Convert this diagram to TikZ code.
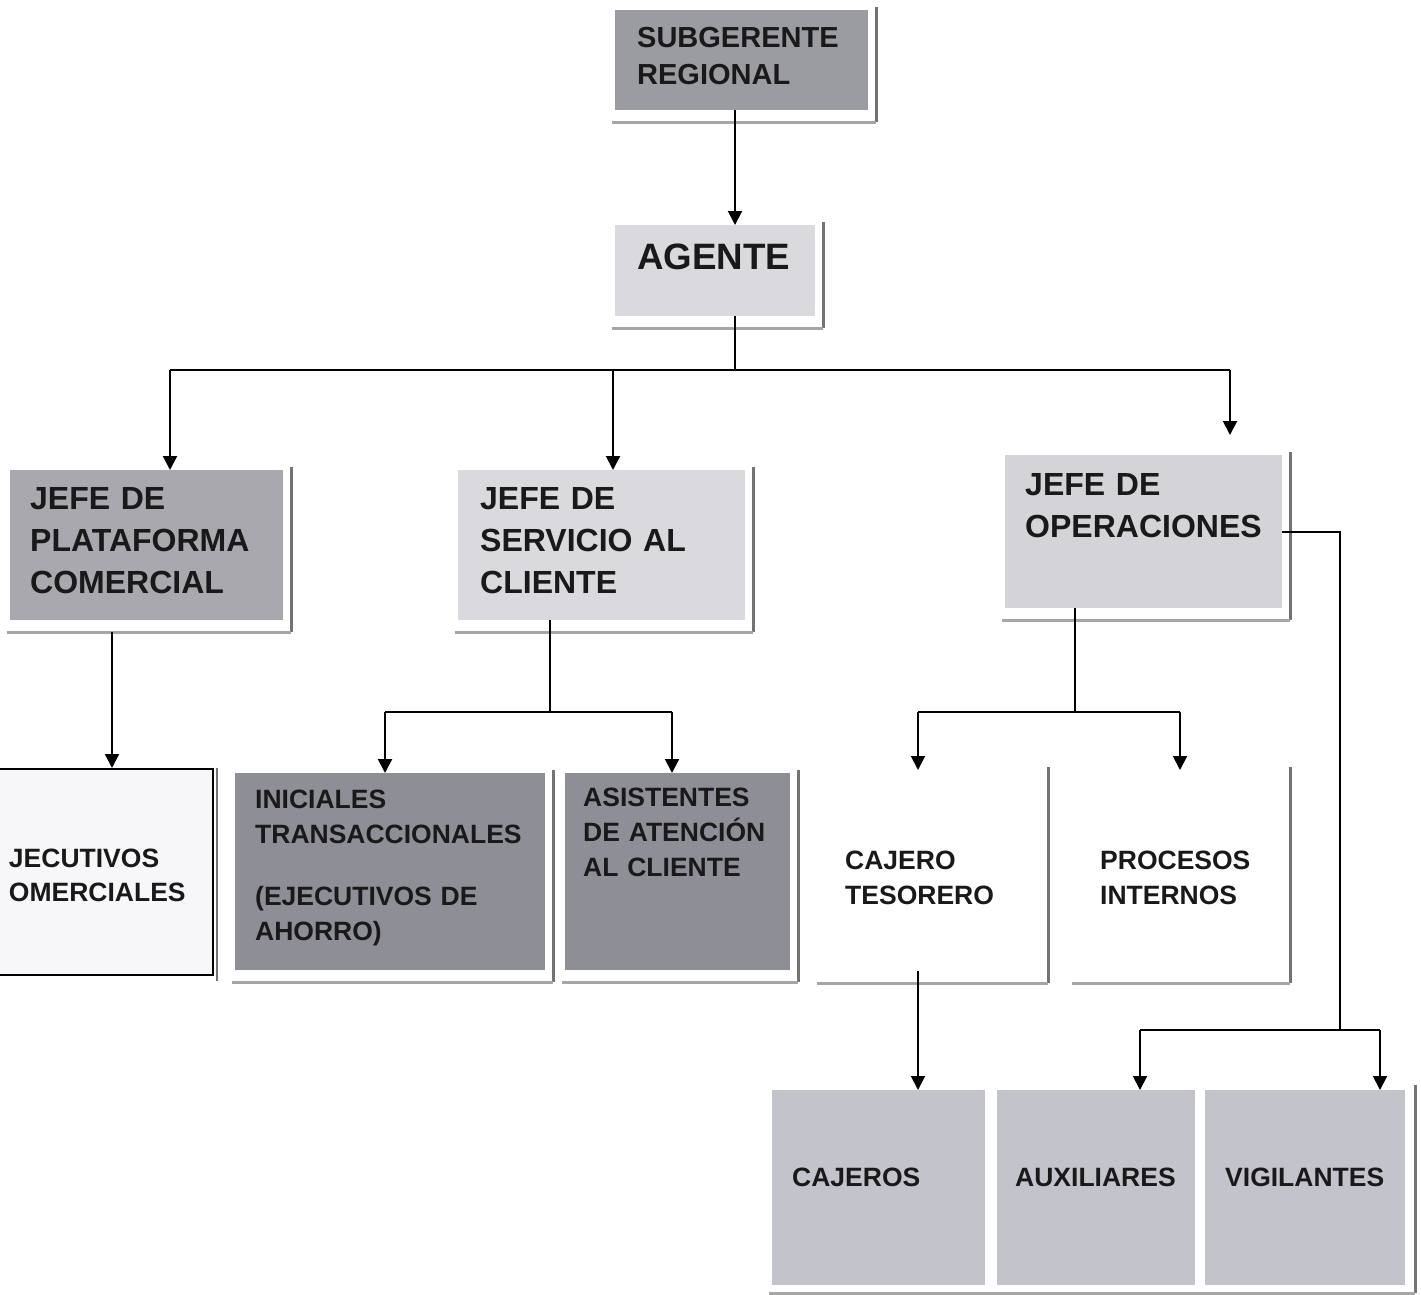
\documentclass[tikz,border=0pt]{standalone}
\usepackage{fontspec}
\setmainfont{Liberation Sans}
\usetikzlibrary{arrows.meta}
\definecolor{gsub}{RGB}{155, 155, 162}
\definecolor{gplat}{RGB}{168, 168, 174}
\definecolor{gclaro}{RGB}{218, 218, 222}
\definecolor{goper}{RGB}{212, 212, 216}
\definecolor{goscuro}{RGB}{142, 142, 150}
\definecolor{gmedio}{RGB}{195, 195, 203}
\definecolor{gblanco}{RGB}{247, 247, 249}
\tikzset{caja/.style = {rectangle, anchor = north west, inner ysep = 0pt, align = left,
                        text = black!90},
         letraS/.style = {font = \bfseries\fontsize{26.5}{35}\selectfont},
         letraM/.style = {font = \bfseries\fontsize{29}{37}\selectfont},
         letraJ/.style = {font = \bfseries\fontsize{32}{42}\selectfont},
         letraG/.style = {font = \bfseries\fontsize{36.7}{44}\selectfont},
         linea/.style = {line width = 2pt},
         flecha/.style = {line width = 2pt, -{Triangle[width = 14pt, length = 14pt]}},
         sombraV/.style = {draw = black!55, line width = 2.5pt},
         sombraH/.style = {draw = black!35, line width = 3pt}}

\begin{document}
\begin{tikzpicture}[x = 1pt, y = -1pt]
      \useasboundingbox [fill = white] (0, 0) rectangle (1421, 1295);
      % cajas
      \node [caja, letraM, fill = gsub, inner xsep = 22pt, text width = 209pt,
             text height = 37pt, text depth = 63pt] (subg) at (615, 10) {SUBGERENTE\\REGIONAL};
      \node [caja, letraG, fill = gclaro, inner xsep = 22pt, text width = 156pt,
             text height = 44pt, text depth = 47pt] (agente) at (615, 225) {AGENTE};
      \node [caja, letraJ, fill = gplat, inner xsep = 20pt, text width = 233pt,
             text height = 39.5pt, text depth = 110.5pt] (plat) at (10, 470) {JEFE DE\\PLATAFORMA\\COMERCIAL};
      \node [caja, letraJ, fill = gclaro, inner xsep = 22pt, text width = 243pt,
             text height = 39.5pt, text depth = 110.5pt] (serv) at (458, 470) {JEFE DE\\SERVICIO AL\\CLIENTE};
      \node [caja, letraJ, fill = goper, inner xsep = 20pt, text width = 237pt,
             text height = 40.5pt, text depth = 112.5pt] (oper) at (1005, 455) {JEFE DE\\OPERACIONES};
      \node [caja, letraS, fill = gblanco, draw = black, line width = 2pt, inner xsep = 20pt,
             text width = 184pt, text height = 98.5pt, text depth = 107pt,
             font = \bfseries\fontsize{26.5}{34}\selectfont] (jecu) at (-12, 768) {JECUTIVOS\\OMERCIALES};
      \node [caja, letraS, fill = goscuro, inner xsep = 20pt, text width = 270pt,
             text height = 35.5pt, text depth = 161.5pt] (inic) at (235, 773) {INICIALES\\TRANSACCIONALES\\[27pt](EJECUTIVOS DE\\AHORRO)};
      \node [caja, letraS, fill = goscuro, inner xsep = 18pt, text width = 189pt,
             text height = 33.5pt, text depth = 163.5pt] (asis) at (565, 773) {ASISTENTES\\DE ATENCIÓN\\AL CLIENTE};
      \node [caja, letraS, fill = white, inner xsep = 25pt, text width = 170pt,
             text height = 99.5pt, text depth = 101.5pt] (cajt) at (820, 770) {CAJERO\\TESORERO};
      \node [caja, letraS, fill = white, inner xsep = 25pt, text width = 157pt,
             text height = 99.5pt, text depth = 101.5pt] (proc) at (1075, 770) {PROCESOS\\INTERNOS};
      \node [caja, letraS, fill = gmedio, inner xsep = 20pt, text width = 173pt,
             text height = 96.5pt, text depth = 98.5pt] (cajs) at (772, 1090) {CAJEROS};
      \node [caja, letraS, fill = gmedio, inner xsep = 18pt, text width = 162pt,
             text height = 96.5pt, text depth = 98.5pt] (auxi) at (997, 1090) {AUXILIARES};
      \node [caja, letraS, fill = gmedio, inner xsep = 20pt, text width = 160pt,
             text height = 96.5pt, text depth = 98.5pt] (vigi) at (1205, 1090) {VIGILANTES};
      % sombras
      \foreach \c in {subg, agente, plat, serv, oper, inic, asis, cajt, proc} {
        \draw [sombraV] ([shift = {(8, -3)}] \c.north east) -- ([shift = {(8, 12)}] \c.south east);
        \draw [sombraH] ([shift = {(-3, 12)}] \c.south west) -- ([shift = {(8, 12)}] \c.south east);
      }
      \draw [sombraV] ([shift = {(10, -5)}] vigi.north east) -- ([shift = {(10, 8)}] vigi.south east);
      \draw [sombraH] ([shift = {(-3, 8)}] cajs.south west) -- ([shift = {(10, 8)}] vigi.south east);
      \draw [sombraV] ([shift = {(3, 0)}] jecu.north east) -- ([shift = {(3, 5)}] jecu.south east);
      % conectores
      \coordinate (jA) at (735, 370);
      \coordinate (cP) at (170, 370);
      \coordinate (cS) at (613, 370);
      \coordinate (cO) at (1230, 370);
      \draw [flecha] (subg.south -| jA) -- (agente.north -| jA);
      \draw [linea] (agente.south -| jA) -- (jA);
      \draw [linea] (cP) -- (cO);
      \draw [flecha] (cP) -- (cP |- plat.north);
      \draw [flecha] (cS) -- (cS |- serv.north);
      \draw [flecha, shorten > = 20pt] (cO) -- (cO |- oper.north);
      \coordinate (cJ) at (112, 632);
      \draw [flecha] (cJ) -- (cJ |- jecu.north);
      \coordinate (jS) at (550, 712);
      \coordinate (cI) at (385, 712);
      \coordinate (cA) at (672, 712);
      \draw [linea] (serv.south -| jS) -- (jS);
      \draw [linea] (cI) -- (cA);
      \draw [flecha] (cI) -- (cI |- inic.north);
      \draw [flecha] (cA) -- (cA |- asis.north);
      \coordinate (jO) at (1075, 712);
      \coordinate (cT) at (918, 712);
      \coordinate (cR) at (1180, 712);
      \draw [linea] (oper.south -| jO) -- (jO);
      \draw [linea] (cT) -- (cR);
      \draw [flecha] (cT) -- (cT |- cajt.north);
      \draw [flecha] (cR) -- (cR |- proc.north);
      \draw [flecha] (cajt.south -| cT) -- (cT |- cajs.north);
      \coordinate (jV) at (1340, 1030);
      \coordinate (cX) at (1140, 1030);
      \coordinate (cV) at (1380, 1030);
      \draw [linea] (oper.east) -- (oper.east -| jV) -- (jV);
      \draw [linea] (cX) -- (cV);
      \draw [flecha] (cX) -- (cX |- auxi.north);
      \draw [flecha] (cV) -- (cV |- vigi.north);
    \end{tikzpicture}
\end{document}
